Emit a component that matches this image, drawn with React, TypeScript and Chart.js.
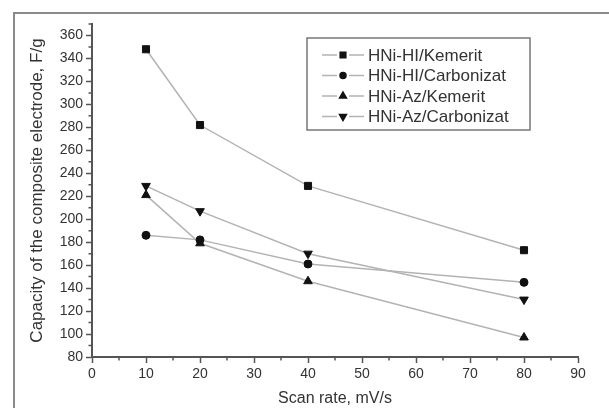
import React, { useEffect, useRef } from 'react';
import { Chart, registerables } from 'chart.js';
import { drawPoint } from 'chart.js/helpers';

Chart.register(...registerables);

const scanRates = [10, 20, 40, 80];
const hiKemerit = [348, 282, 229, 173];
const hiCarbonizat = [186, 182, 161, 145];
const azKemerit = [221, 179, 146, 97];
const azCarbonizat = [229, 207, 170, 130];
const seriesNames = ['HNi-HI/Kemerit', 'HNi-HI/Carbonizat', 'HNi-Az/Kemerit', 'HNi-Az/Carbonizat'];
const yTickValues = [80, 100, 120, 140, 160, 180, 200, 220, 240, 260, 280, 300, 320, 340, 360];
const xMinorTicks = [5, 15, 25, 35, 45, 55, 65, 75, 85];
const yMinorTicks = [90, 110, 130, 150, 170, 190, 210, 230, 250, 270, 290, 310, 330, 350, 370];

const FONT = 'Liberation Sans, Arial, sans-serif';
const AXIS = '#555';
const TEXT = '#333';
const LINE = '#b3b3b3';

const markerStyles = [
  { pointStyle: 'rect', radius: 5, rotation: 0 },
  { pointStyle: 'circle', radius: 4, rotation: 0 },
  { pointStyle: 'triangle', radius: 5, rotation: 0 },
  { pointStyle: 'triangle', radius: 5, rotation: 180 },
];

const framePlugin = {
  id: 'frame',
  beforeDraw(chart: any) {
    const { ctx, width, height } = chart;
    ctx.save();
    ctx.fillStyle = '#fff';
    ctx.fillRect(0, 0, width, height);
    ctx.strokeStyle = '#8a8a8a';
    ctx.lineWidth = 2;
    ctx.beginPath();
    ctx.moveTo(14, height);
    ctx.lineTo(14, 13);
    ctx.lineTo(width, 13);
    ctx.stroke();
    ctx.restore();
  },
};

const minorTickPlugin = {
  id: 'minorTicks',
  afterDraw(chart: any) {
    const { ctx } = chart;
    const x = chart.scales.x;
    const y = chart.scales.y;
    ctx.save();
    ctx.strokeStyle = AXIS;
    ctx.lineWidth = 1.5;
    ctx.beginPath();
    xMinorTicks.forEach((v) => {
      const px = x.getPixelForValue(v);
      ctx.moveTo(px, x.top);
      ctx.lineTo(px, x.top + 3.5);
    });
    yMinorTicks.forEach((v) => {
      const py = y.getPixelForValue(v);
      ctx.moveTo(y.right, py);
      ctx.lineTo(y.right - 3.5, py);
    });
    ctx.stroke();
    ctx.restore();
  },
};

const legendPlugin = {
  id: 'customLegend',
  afterDraw(chart: any) {
    const { ctx, chartArea } = chart;
    const left = chartArea.left + 215;
    const top = chartArea.top + 14;
    const w = 223;
    const h = 92;
    ctx.save();
    ctx.fillStyle = '#fff';
    ctx.fillRect(left, top, w, h);
    ctx.strokeStyle = '#777';
    ctx.lineWidth = 1.5;
    ctx.strokeRect(left, top, w, h);
    ctx.font = `17px ${FONT}`;
    ctx.textBaseline = 'middle';
    ctx.textAlign = 'left';
    chart.data.datasets.forEach((ds: any, i: number) => {
      const cy = top + 17 + i * 20.5;
      const x0 = left + 15;
      ctx.strokeStyle = LINE;
      ctx.lineWidth = 1.5;
      ctx.beginPath();
      ctx.moveTo(x0, cy);
      ctx.lineTo(x0 + 15, cy);
      ctx.moveTo(x0 + 27, cy);
      ctx.lineTo(x0 + 42, cy);
      ctx.stroke();
      ctx.fillStyle = '#111';
      ctx.strokeStyle = '#111';
      const m = markerStyles[i];
      drawPoint(ctx, { pointStyle: m.pointStyle, radius: m.radius - 1, rotation: m.rotation, borderWidth: 1 } as any, x0 + 21, cy);
      ctx.fillStyle = TEXT;
      ctx.fillText(ds.label, x0 + 46, cy + 1);
    });
    ctx.restore();
  },
};

const seriesValues = [hiKemerit, hiCarbonizat, azKemerit, azCarbonizat];

export default function App() {
  const ref = useRef<HTMLCanvasElement>(null);
  useEffect(() => {
    if (!ref.current) return;
    const chart = new Chart(ref.current, {
      type: 'line',
      data: {
        datasets: seriesValues.map((vals, i) => ({
          label: seriesNames[i],
          data: scanRates.map((x, j) => ({ x, y: vals[j] })),
          borderColor: LINE,
          borderWidth: 1.5,
          backgroundColor: '#111',
          pointBackgroundColor: '#111',
          pointBorderColor: '#111',
          pointBorderWidth: 1,
          pointStyle: markerStyles[i].pointStyle as any,
          pointRadius: markerStyles[i].radius,
          pointRotation: markerStyles[i].rotation,
          fill: false,
          tension: 0,
        })),
      },
      options: {
        responsive: false,
        animation: false,
        layout: { padding: { top: 24, right: 31, left: 0, bottom: 0 } },
        plugins: { legend: { display: false }, tooltip: { enabled: false } },
        scales: {
          x: {
            type: 'linear',
            min: 0,
            max: 90,
            ticks: { stepSize: 10, color: TEXT, font: { family: FONT, size: 14 }, padding: 3, maxRotation: 0, autoSkip: false },
            grid: { drawOnChartArea: false, drawTicks: true, tickLength: 6, tickColor: AXIS, tickWidth: 1.5 },
            border: { display: true, color: AXIS, width: 2 },
            title: { display: true, text: 'Scan rate, mV/s', color: TEXT, font: { family: FONT, size: 16 }, padding: { top: 1, bottom: 0 } },
            afterFit: (s: any) => { s.height = 51; },
          },
          y: {
            type: 'linear',
            min: 80,
            max: 370,
            ticks: { stepSize: 20, color: TEXT, font: { family: FONT, size: 14 }, padding: 3, autoSkip: false },
            afterBuildTicks: (s: any) => { s.ticks = yTickValues.map((v) => ({ value: v })); },
            grid: { drawOnChartArea: false, drawTicks: true, tickLength: 6, tickColor: AXIS, tickWidth: 1.5 },
            border: { display: true, color: AXIS, width: 2 },
            title: { display: true, text: 'Capacity of the composite electrode, F/g', color: TEXT, font: { family: FONT, size: 17 }, padding: { top: 27, bottom: 0 } },
            afterFit: (s: any) => { s.width = 92; },
          },
        },
      },
      plugins: [framePlugin, minorTickPlugin, legendPlugin],
    });
    return () => chart.destroy();
  }, []);
  return (
    <div style={{ position: 'absolute', left: 0, top: 0, width: 609, height: 408, background: '#fff' }}>
      <canvas ref={ref} width={609} height={408} style={{ display: 'block', width: 609, height: 408 }} />
    </div>
  );
}
